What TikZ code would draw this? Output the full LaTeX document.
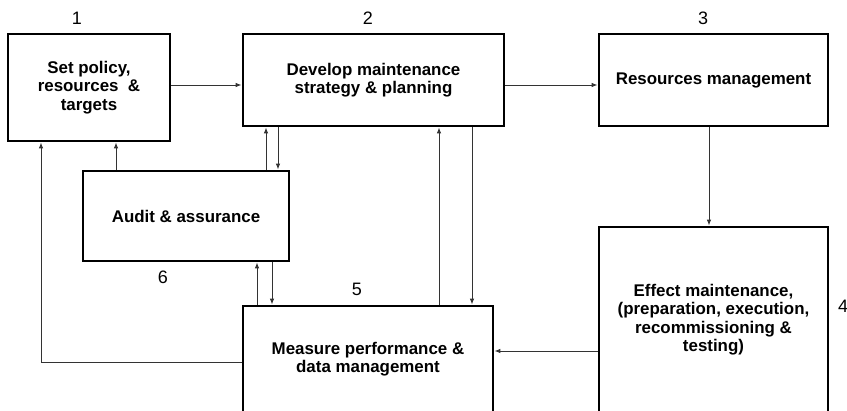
\documentclass[tikz,border=0pt]{standalone}
\usepackage{fontspec}
\setmainfont{Liberation Sans}
\usetikzlibrary{arrows.meta}
\begin{document}
\begin{tikzpicture}[x=1pt,y=-1pt,
    blk/.style={draw,line width=2.8pt,align=center,inner sep=0pt,
      font=\fontsize{16.9}{18.5}\selectfont\bfseries},
    num/.style={inner sep=0pt,font=\fontsize{18}{18}\selectfont},
    link/.style={line width=0.9pt,draw=black!80,-{Latex[length=6pt,width=4.5pt]}}]
  \useasboundingbox (0,0) rectangle (847,411);

  \node[blk,minimum width=162pt,minimum height=107pt] (policy) at (89,87.5) {Set policy,\\resources\ \ \&\\targets};
  \node[blk,minimum width=261pt,minimum height=92pt] (plan) at (373.5,80) {Develop maintenance\\strategy \& planning};
  \node[blk,minimum width=229pt,minimum height=92pt] (res) at (713.5,80) {Resources management};
  \node[blk,minimum width=229pt,minimum height=185pt] (effect) at (713.5,319.5) {Effect maintenance,\\(preparation, execution,\\recommissioning \&\\testing)};
  \node[blk,minimum width=250pt,minimum height=106pt] (measure) at (368,359) {Measure performance \&\\data management};
  \node[blk,minimum width=206pt,minimum height=90pt] (audit) at (186,216) {Audit \& assurance};

  \foreach \n/\x/\y in {1/77/18, 2/368/18, 3/703/18, 4/843/306, 5/357/289, 6/163/277}
    \node[num] (n\n) at (\x,\y) {\n};

  \draw[link] (policy.east |- 0,85) -- (plan.west |- 0,85);
  \draw[link] (plan.east |- 0,85) -- (res.west |- 0,85);
  \draw[link] (res.south -| 709,0) -- (effect.north -| 709,0);
  \draw[link] (effect.west |- 0,351) -- (measure.east |- 0,351);
  \draw[link] (measure.west |- 0,362) -| (policy.south -| 41,0);
  \draw[link] (audit.north -| 116,0) -- (policy.south -| 116,0);
  \foreach \a/\b/\x in {audit.north/plan.south/266, plan.south/audit.north/278,
      measure.north/audit.south/257, audit.south/measure.north/272,
      measure.north/plan.south/439, plan.south/measure.north/472}
    \draw[link] (\a -| \x,0) -- (\b -| \x,0);
\end{tikzpicture}
\end{document}
